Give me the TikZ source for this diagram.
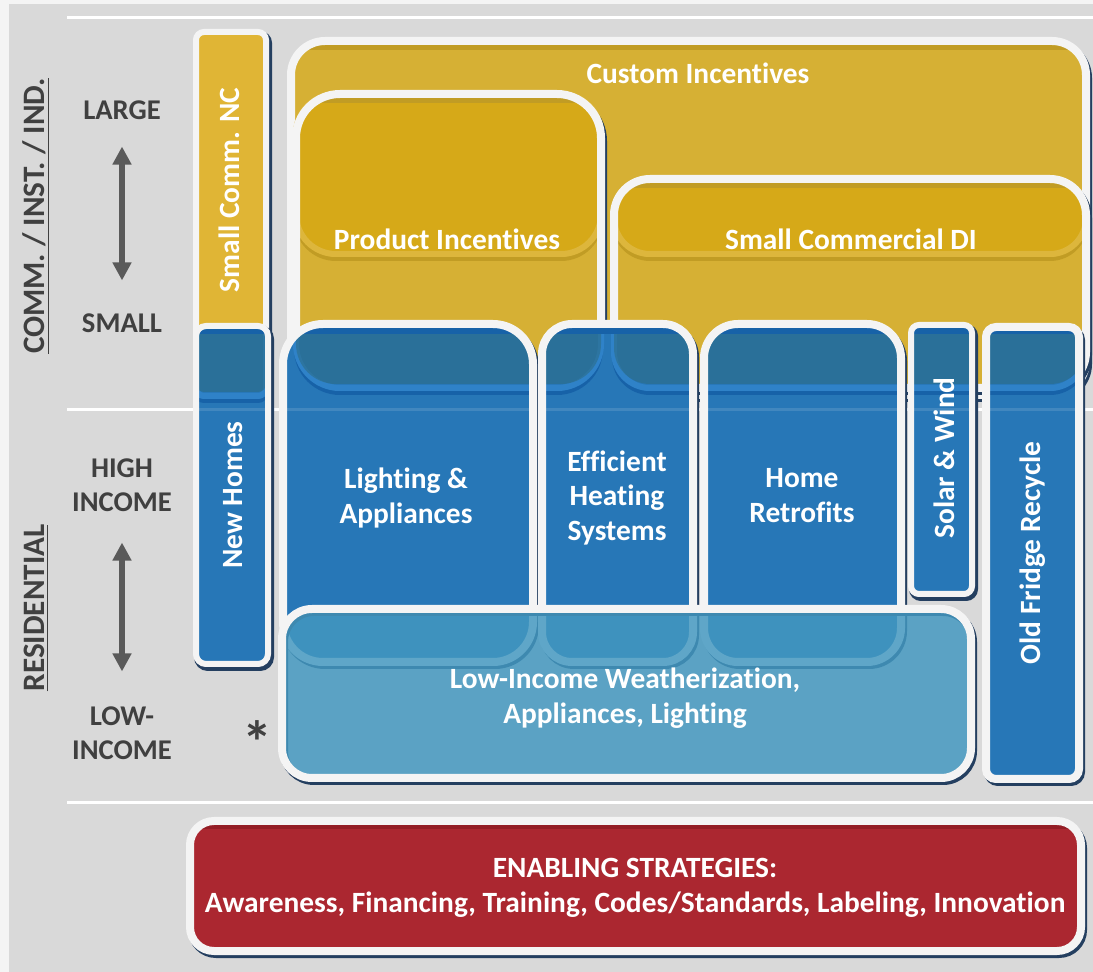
\documentclass[tikz,border=0pt]{standalone}
\usepackage{fontspec}
\setmainfont{Carlito}[Ligatures=NoCommon]
\usetikzlibrary{arrows.meta,positioning}

\definecolor{bggray}{HTML}{D9D9D9}
\definecolor{rimwhite}{HTML}{F4F4F4}
\definecolor{goldlight}{HTML}{D6B034}
\definecolor{golddark}{HTML}{D6A918}
\definecolor{goldband}{HTML}{DDB63C}
\definecolor{golddeep}{HTML}{C19C24}
\definecolor{goldnc}{HTML}{E0B535}
\definecolor{progblue}{HTML}{2777B7}
\definecolor{blueband}{HTML}{2F82C8}
\definecolor{bluedeep}{HTML}{1762A8}
\definecolor{lowteal}{RGB}{67,152,192}
\definecolor{enablered}{HTML}{AB2730}
\definecolor{reddeep}{HTML}{931D25}
\definecolor{labelgray}{HTML}{404040}
\definecolor{arrowgray}{HTML}{5A5A5A}
\definecolor{shadownavy}{HTML}{243F60}
\definecolor{veilteal}{RGB}{45,106,124}

\tikzset{
  rim/.style={draw=rimwhite, line width=4pt},
  thinrim/.style={draw=rimwhite, line width=3pt},
  boxshadow/.style={preaction={draw=shadownavy, line width=4pt,
      transform canvas={xshift=1pt, yshift=-1.5pt}}},
  goldbox/.style={fill=goldlight, boxshadow},
  bluebox/.style={fill=progblue, boxshadow},
  lowbox/.style={fill=lowteal, fill opacity=0.84, boxshadow, rim},
  redbox/.style={fill=enablered, boxshadow},
  goldveil/.style={fill=veilteal, fill opacity=0.5},
  bubbleedge/.style 2 args={draw=#1, line width=3pt,
      preaction={draw=#2, line width=2pt, transform canvas={yshift=-2.5pt}}},
  boxtext/.style={text=white, font=\fontsize{14.7}{17.5}\selectfont\bfseries,
      align=center, inner sep=0pt},
  sidetext/.style={text=labelgray, font=\fontsize{14.3}{17}\selectfont\bfseries,
      align=center},
  sidehead/.style={text=labelgray, font=\fontsize{15.6}{18}\selectfont\bfseries,
      rotate=90},
  scalearrow/.style={draw=arrowgray, line width=3pt,
      {Triangle[width=9pt,length=9pt]}-{Triangle[width=9pt,length=9pt]}},
  divider/.style={draw=white, line width=1.5pt}
}

%Box outlines (pixel grid, y downwards)
\def\pathCustom{[rounded corners=17pt] (291,41) rectangle (1086,395)}
\def\pathNC{[rounded corners=4pt] (196,32) rectangle (266,396)}
\def\pathProduct{[rounded corners=22pt] (296,94) rectangle (601,388)}
\def\pathSmallDI{[rounded corners=18pt] (614,179) rectangle (1086,388)}
\def\pathNewHomes{[rounded corners=5pt] (196,326) rectangle (268,664)}
\def\pathLighting{[rounded corners=20pt] (283,324) rectangle (533,662)}
\def\pathHeating{[rounded corners=15pt] (542,324) rectangle (693,662)}
\def\pathRetrofit{[rounded corners=17pt] (704,324) rectangle (901,662)}
\def\pathSolar{[rounded corners=4pt] (911,325) rectangle (972,594)}
\def\pathFridge{[rounded corners=5pt] (986,327) rectangle (1079,779)}
\def\pathLow{[rounded corners=15pt] (282,609) rectangle (971,778)}
\def\pathEnable{[rounded corners=12pt] (190,821) rectangle (1081,951)}

%Darker band along the top inside a box
\newcommand\topband[3]{%
  \begin{scope}
    \clip #1;
    \draw[#3, line width=3pt] (150,#2) -- (1093,#2);
  \end{scope}}

\begin{document}
\begin{tikzpicture}[x=0.5pt, y=-0.5pt]

%Background
\fill[rimwhite] (0,0) rectangle (1093,972);
\fill[bggray] (9,4) rectangle (1093,972);
\useasboundingbox (0,0) rectangle (1093,972);

%Divider lines
\draw[divider] (67,18) -- (1093,18);
\draw[divider] (67,410) -- (1093,410);
\draw[divider] (67,803) -- (1093,803);

%Gold boxes
\path[goldbox] \pathCustom;
\topband{\pathCustom}{47}{golddeep}
\draw[rim] \pathCustom;
\path[goldbox, fill=goldnc, thinrim] \pathNC;
\path[goldbox] \pathProduct;
\draw[bubbleedge={goldband}{golddeep}, fill=golddark, rounded corners=20pt] (296,94) rectangle (601,254);
\topband{\pathProduct}{100}{golddeep}
\draw[rim] \pathProduct;
\path[goldbox] \pathSmallDI;
\draw[bubbleedge={goldband}{golddeep}, fill=golddark, rounded corners=18pt] (614,179) rectangle (1086,254);
\topband{\pathSmallDI}{185}{golddeep}
\draw[rim] \pathSmallDI;

%Blue boxes
\path[bluebox] \pathNewHomes;
\path[bluebox] \pathLighting;
\path[bluebox] \pathHeating;
\path[bluebox] \pathRetrofit;
\path[bluebox] \pathSolar;
\path[bluebox] \pathFridge;
\begin{scope}
  \clip \pathNewHomes \pathLighting \pathHeating \pathRetrofit \pathSolar \pathFridge;
  \draw[bubbleedge={blueband}{bluedeep}] \pathNC \pathProduct \pathSmallDI;
  \fill[goldveil] [rounded corners=4pt] (196,32) rectangle (266,392)
    [rounded corners=20pt] (296,94) rectangle (601,384)
    [rounded corners=18pt] (614,179) rectangle (1086,384);
  \draw[divider, draw opacity=0.12] (150,410) -- (1093,410);
  \draw[bluedeep, line width=3pt] (150,331) -- (1093,331);
\end{scope}
\draw[thinrim] \pathNewHomes;
\draw[rim] \pathLighting;
\draw[rim] \pathHeating;
\draw[rim] \pathRetrofit;
\draw[thinrim] \pathSolar;
\draw[rim] \pathFridge;

%Low-income and enabling boxes
\path[lowbox] \pathLow;
\path[redbox] \pathEnable;
\topband{\pathEnable}{826}{reddeep}
\draw[rim] \pathEnable;

%Box labels
\node[boxtext] (custom) at (698,73) {Custom Incentives};
\node[boxtext] (product) at (447,239) {Product Incentives};
\node[boxtext] (smalldi) at (851,239) {Small Commercial DI};
\node[boxtext, rotate=90] (smallnc) at (229,190) {Small Comm. NC};
\node[boxtext, rotate=90] (newhomes) at (233,495) {New Homes};
\node[boxtext] (lighting) at (406,498) {Lighting \&\\Appliances};
\node[boxtext] (heating) at (617,498) {Efficient\\Heating\\Systems};
\node[boxtext] (retrofit) at (802,496) {Home\\Retrofits};
\node[boxtext, rotate=90] (solar) at (944,458) {Solar \& Wind};
\node[boxtext, rotate=90] (fridge) at (1033,553) {Old Fridge Recycle};
\node[boxtext] (lowincome) at (625,698) {Low-Income Weatherization,\\Appliances, Lighting};
\node[boxtext] (enabling) at (635,888) {ENABLING STRATEGIES:\\Awareness, Financing, Training, Codes/Standards, Labeling, Innovation};

%Side labels
\node[sidehead] (commhead) at (36,216) {\underline{COMM. / INST. / IND.}};
\node[sidehead] (reshead) at (36,608) {\underline{RESIDENTIAL}};
\node[sidetext] (large) at (122,110) {LARGE};
\node[sidetext] (small) at (122,323) {SMALL};
\node[sidetext] (high) at (122,485) {HIGH\\INCOME};
\node[sidetext] (low) at (122,733) {LOW-\\INCOME};
\node[sidetext, font=\fontsize{30}{30}\selectfont\bfseries] (star) at (257,742) {*};

%Scale arrows
\draw[scalearrow, shorten <=10pt, shorten >=13pt] (large) -- (small);
\draw[scalearrow, shorten <=12pt, shorten >=14pt] (high) -- (low);

\end{tikzpicture}
\end{document}
